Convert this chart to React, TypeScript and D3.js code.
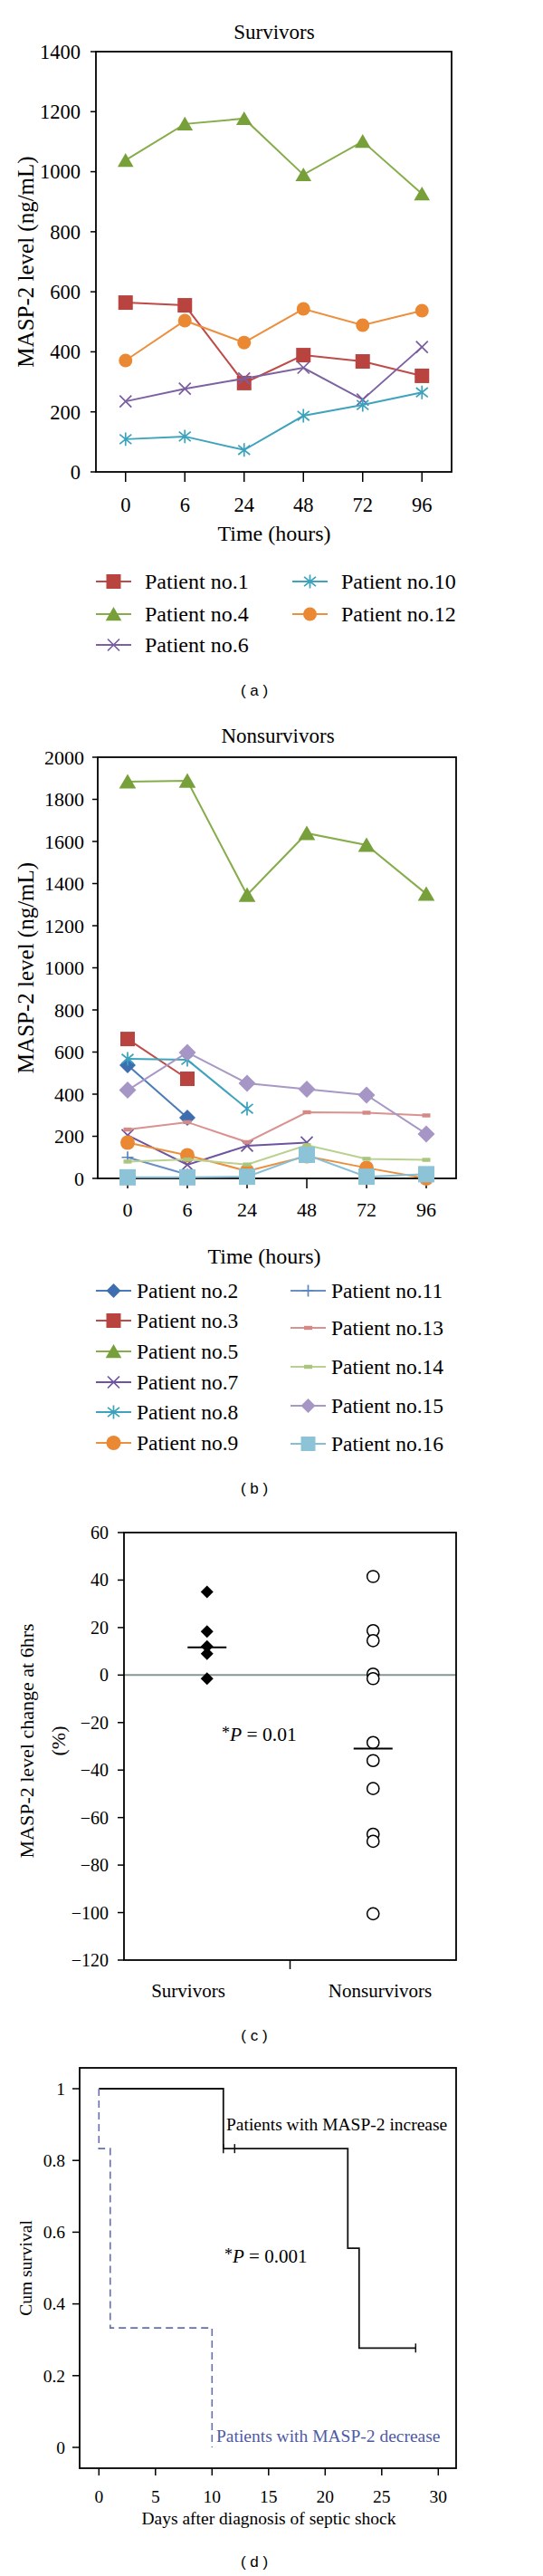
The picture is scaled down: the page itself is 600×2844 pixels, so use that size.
import React from "react";
import * as d3 from "d3";

// ---------------- DATA ----------------
const hours = ["0", "6", "24", "48", "72", "96"];

// (a) Survivors – MASP-2 level (ng/mL)
const patient1 = [564, 555, 296, 389, 368, 320];
const patient4 = [1038, 1159, 1177, 990, 1101, 926];
const patient6 = [235, 277, 311, 347, 241, 416];
const patient10 = [109, 118, 73, 187, 223, 265];
const patient12 = [371, 504, 431, 543, 489, 537];
const survivorTicks = [0, 200, 400, 600, 800, 1000, 1200, 1400];

// (b) Nonsurvivors – MASP-2 level (ng/mL)
const patient2 = [538, 288, null, null, null, null];
const patient3 = [662, 473, null, null, null, null];
const patient5 = [1884, 1888, 1346, 1639, 1583, 1351];
const patient7 = [205, 65, 155, 170, null, null];
const patient8 = [568, 563, 331, null, null, null];
const patient9 = [170, 110, 35, 105, 50, 0];
const patient11 = [100, 18, null, null, null, null];
const patient13 = [232, 267, 172, 314, 312, 299];
const patient14 = [80, 90, 66, 158, 93, 88];
const patient15 = [419, 598, 452, 424, 396, 211];
const patient16 = [5, 5, 8, 112, 8, 20];
const nonsurvivorTicks = [0, 200, 400, 600, 800, 1000, 1200, 1400, 1600, 1800, 2000];

// (c) MASP-2 change at 6 hrs (%)
const groups = ["Survivors", "Nonsurvivors"];
const survivorChange = [35, 18.3, 12, 9, -1.5];
const nonsurvivorChange = [41.5, 18.7, 14.5, 0.4, -1.5, -28.4, -36, -47.8, -67, -70, -100.5];
const groupMedians = [11.7, -31];
const changeTicks = [60, 40, 20, 0, -20, -40, -60, -80, -100, -120];

// (d) Kaplan–Meier
const increaseTimes = [0, 11, 22, 23, 28];
const increaseSurvival = [1, 0.833, 0.555, 0.277, 0.277];
const increaseCensorTimes = [11, 12, 28];
const increaseCensorSurvival = [0.833, 0.833, 0.277];
const decreaseTimes = [0, 0, 1, 10];
const decreaseSurvival = [1, 0.833, 0.333, 0];
const dayTicks = [0, 5, 10, 15, 20, 25, 30];
const survivalTicks = [0, 0.2, 0.4, 0.6, 0.8, 1];

// ---------------- STYLE ----------------
const SERIF = "'Liberation Serif', 'Times New Roman', serif";
const SANS = "'Liberation Sans', Arial, sans-serif";

type Kind = "square" | "triangle" | "circle" | "diamond" | "x" | "asterisk" | "plus" | "dash";
type Series = {
  name: string;
  values: (number | null)[];
  line: string;
  mark: string;
  kind: Kind;
  size: number;
  col: number;
  row: number;
};

const survivorSeries: Series[] = [
  { name: "Patient no.1", values: patient1, line: "#BE4B48", mark: "#B8433F", kind: "square", size: 16, col: 0, row: 0 },
  { name: "Patient no.4", values: patient4, line: "#86AD4A", mark: "#77A03A", kind: "triangle", size: 16, col: 0, row: 1 },
  { name: "Patient no.6", values: patient6, line: "#7D61A1", mark: "#7A5EA0", kind: "x", size: 13, col: 0, row: 2 },
  { name: "Patient no.10", values: patient10, line: "#3FA3BC", mark: "#3AA2BC", kind: "asterisk", size: 13, col: 1, row: 0 },
  { name: "Patient no.12", values: patient12, line: "#EC8F3E", mark: "#EA8834", kind: "circle", size: 15, col: 1, row: 1 },
];

const nonsurvivorSeries: Series[] = [
  { name: "Patient no.2", values: patient2, line: "#4A7AB8", mark: "#3E6EAF", kind: "diamond", size: 18, col: 0, row: 0 },
  { name: "Patient no.3", values: patient3, line: "#BE4B48", mark: "#B8433F", kind: "square", size: 16, col: 0, row: 1 },
  { name: "Patient no.5", values: patient5, line: "#86AD4A", mark: "#77A03A", kind: "triangle", size: 17, col: 0, row: 2 },
  { name: "Patient no.7", values: patient7, line: "#6E54A0", mark: "#6E54A0", kind: "x", size: 13, col: 0, row: 3 },
  { name: "Patient no.8", values: patient8, line: "#3FA3BC", mark: "#3AA2BC", kind: "asterisk", size: 13, col: 0, row: 4 },
  { name: "Patient no.9", values: patient9, line: "#EC8F3E", mark: "#EA8834", kind: "circle", size: 16, col: 0, row: 5 },
  { name: "Patient no.11", values: patient11, line: "#6A8FC6", mark: "#5C86C0", kind: "plus", size: 13, col: 1, row: 0 },
  { name: "Patient no.13", values: patient13, line: "#D9928F", mark: "#D58985", kind: "dash", size: 9, col: 1, row: 1 },
  { name: "Patient no.14", values: patient14, line: "#B8D18E", mark: "#A9C67C", kind: "dash", size: 9, col: 1, row: 2 },
  { name: "Patient no.15", values: patient15, line: "#A898C6", mark: "#A696C6", kind: "diamond", size: 19, col: 1, row: 3 },
  { name: "Patient no.16", values: patient16, line: "#86BFD4", mark: "#8CC3D7", kind: "square", size: 18, col: 1, row: 4 },
];

function Marker({ kind, x, y, size, color }: { kind: Kind; x: number; y: number; size: number; color: string }) {
  const h = size / 2;
  switch (kind) {
    case "square":
      return <rect x={x - h} y={y - h} width={size} height={size} fill={color} />;
    case "triangle":
      return <path d={`M${x},${y - h * 1.0}L${x + h * 1.1},${y + h * 0.9}L${x - h * 1.1},${y + h * 0.9}Z`} fill={color} />;
    case "circle":
      return <circle cx={x} cy={y} r={h} fill={color} />;
    case "diamond":
      return <path d={`M${x},${y - h}L${x + h},${y}L${x},${y + h}L${x - h},${y}Z`} fill={color} />;
    case "x":
      return <path d={`M${x - h},${y - h}L${x + h},${y + h}M${x - h},${y + h}L${x + h},${y - h}`} stroke={color} strokeWidth={1.7} fill="none" />;
    case "asterisk":
      return (
        <path
          d={`M${x - h},${y - h * 0.8}L${x + h},${y + h * 0.8}M${x - h},${y + h * 0.8}L${x + h},${y - h * 0.8}M${x},${y - h * 1.15}L${x},${y + h * 1.15}`}
          stroke={color}
          strokeWidth={1.7}
          fill="none"
        />
      );
    case "plus":
      return <path d={`M${x - h},${y}L${x + h},${y}M${x},${y - h}L${x},${y + h}`} stroke={color} strokeWidth={1.7} fill="none" />;
    case "dash":
      return <rect x={x - h} y={y - 2.2} width={size} height={4.4} fill={color} />;
  }
  return null;
}

type LineProps = {
  title: string;
  titleX: number;
  titleY: number;
  left: number;
  right: number;
  top: number;
  bottom: number;
  yMax: number;
  yTicks: number[];
  series: Series[];
  labelRight: number;
  tickFont: number;
  xLabelX: number;
  xLabelY: number;
  tickLabelY: number;
  yLabelX: number;
  legendCols: { lineX: number; textX: number }[];
  legendRows: number[][];
  legendFont: number;
  panelTag: string;
  panelTagY: number;
};

function LinePanel(p: LineProps) {
  const x = d3.scaleBand<string>().domain(hours).range([p.left, p.right]);
  const y = d3.scaleLinear().domain([0, p.yMax]).range([p.bottom, p.top]);
  const bw = x.bandwidth();
  const cx = (i: number) => (x(hours[i]) as number) + bw / 2;
  const line = d3
    .line<number | null>()
    .defined((d) => d != null)
    .x((_, i) => cx(i))
    .y((d) => y(d as number));
  return (
    <g>
      <text x={p.titleX} y={p.titleY} textAnchor="middle" fontFamily={SERIF} fontSize={23}>
        {p.title}
      </text>
      {p.yTicks.map((t) => (
        <g key={t}>
          <line x1={p.left - 6} x2={p.left} y1={y(t)} y2={y(t)} stroke="#000" strokeWidth={1.5} />
          <text x={p.labelRight} y={y(t)} dy="0.35em" textAnchor="end" fontFamily={SERIF} fontSize={p.tickFont}>
            {t}
          </text>
        </g>
      ))}
      {hours.map((h, i) => (
        <g key={h}>
          <line x1={cx(i)} x2={cx(i)} y1={p.bottom} y2={p.bottom + 11} stroke="#000" strokeWidth={1.5} />
          <text x={cx(i)} y={p.tickLabelY} textAnchor="middle" fontFamily={SERIF} fontSize={p.tickFont}>
            {h}
          </text>
        </g>
      ))}
      <rect x={p.left} y={p.top} width={p.right - p.left} height={p.bottom - p.top} fill="none" stroke="#000" strokeWidth={1.8} />
      {p.series.map((s) => (
        <g key={s.name}>
          <path d={line(s.values) || ""} fill="none" stroke={s.line} strokeWidth={2} />
          {s.values.map((v, i) =>
            v == null ? null : <Marker key={i} kind={s.kind} x={cx(i)} y={y(v)} size={s.size} color={s.mark} />
          )}
        </g>
      ))}
      <text x={p.xLabelX} y={p.xLabelY} textAnchor="middle" fontFamily={SERIF} fontSize={24}>
        Time (hours)
      </text>
      <text
        x={p.yLabelX}
        y={(p.top + p.bottom) / 2}
        transform={`rotate(-90 ${p.yLabelX} ${(p.top + p.bottom) / 2})`}
        textAnchor="middle"
        fontFamily={SERIF}
        fontSize={25}
      >
        MASP-2 level (ng/mL)
      </text>
      {p.series.map((s) => {
        const c = p.legendCols[s.col];
        const ry = p.legendRows[s.col][s.row];
        return (
          <g key={"lg" + s.name}>
            <line x1={c.lineX} x2={c.lineX + 39} y1={ry} y2={ry} stroke={s.line} strokeWidth={2} />
            <Marker kind={s.kind} x={c.lineX + 19.5} y={ry} size={Math.min(s.size, 16)} color={s.mark} />
            <text x={c.textX} y={ry} dy="0.33em" fontFamily={SERIF} fontSize={p.legendFont}>
              {s.name}
            </text>
          </g>
        );
      })}
      <text x={281} y={p.panelTagY} dy="0.35em" textAnchor="middle" fontFamily={SANS} fontSize={17}>
        {p.panelTag}
      </text>
    </g>
  );
}

function ChangePanel() {
  const left = 137, right = 504, top = 1692, bottom = 2164;
  const y = d3.scaleLinear().domain([-120, 60]).range([bottom, top]);
  const x = d3.scaleBand<string>().domain(groups).range([left, right]);
  const bw = x.bandwidth();
  const cx = (g: string) => (x(g) as number) + bw / 2;
  const labelX = d3.scalePoint<string>().domain(groups).range([208, 420]);
  const midY = 1922;
  return (
    <g>
      {changeTicks.map((t) => (
        <g key={t}>
          <line x1={left - 7} x2={left} y1={y(t)} y2={y(t)} stroke="#000" strokeWidth={1.5} />
          <text x={left - 17} y={y(t)} dy="0.35em" textAnchor="end" fontFamily={SERIF} fontSize={20}>
            {t < 0 ? "\u2212" + Math.abs(t) : t}
          </text>
        </g>
      ))}
      <line x1={left} x2={right} y1={y(0)} y2={y(0)} stroke="#869696" strokeWidth={2} />
      <rect x={left} y={top} width={right - left} height={bottom - top} fill="none" stroke="#000" strokeWidth={1.8} />
      <line x1={left + bw} x2={left + bw} y1={bottom} y2={bottom + 10} stroke="#000" strokeWidth={1.5} />
      {groups.map((g) => (
        <text key={g} x={labelX(g)} y={2205} textAnchor="middle" fontFamily={SERIF} fontSize={21}>
          {g}
        </text>
      ))}
      {survivorChange.map((v, i) => (
        <Marker key={"s" + i} kind="diamond" x={cx(groups[0])} y={y(v)} size={14} color="#000" />
      ))}
      {nonsurvivorChange.map((v, i) => (
        <circle key={"n" + i} cx={cx(groups[1])} cy={y(v)} r={6.6} fill="#fff" stroke="#000" strokeWidth={1.5} />
      ))}
      {groups.map((g, i) => (
        <line key={"m" + g} x1={cx(g) - 21.5} x2={cx(g) + 21.5} y1={y(groupMedians[i])} y2={y(groupMedians[i])} stroke="#000" strokeWidth={2} />
      ))}
      <text x={245} y={midY} fontFamily={SERIF} fontSize={21.5}>
        <tspan dy="-3" fontSize={18}>*</tspan>
        <tspan dy="3" fontStyle="italic">P</tspan>
        <tspan> = 0.01</tspan>
      </text>
      <text x={37} y={midY} transform={`rotate(-90 37 ${midY})`} textAnchor="middle" fontFamily={SERIF} fontSize={22}>
        MASP-2 level change at 6hrs
      </text>
      <text x={72} y={midY} transform={`rotate(-90 72 ${midY})`} textAnchor="middle" fontFamily={SERIF} fontSize={22}>
        (%)
      </text>
      <text x={281} y={2247} dy="0.35em" textAnchor="middle" fontFamily={SANS} fontSize={17}>
        ( c )
      </text>
    </g>
  );
}

function SurvivalPanel() {
  const left = 88, right = 504, top = 2283, bottom = 2725;
  const x = d3.scaleLinear().domain([0, 30]).range([109.3, 484.3]);
  const y = d3.scaleLinear().domain([0, 1]).range([2702, 2306]);
  const step = d3
    .line<[number, number]>()
    .x((d) => x(d[0]))
    .y((d) => y(d[1]))
    .curve(d3.curveStepAfter);
  const inc = increaseTimes.map((t, i) => [t, increaseSurvival[i]] as [number, number]);
  const dec = decreaseTimes.map((t, i) => [t, decreaseSurvival[i]] as [number, number]);
  return (
    <g>
      <rect x={left} y={top} width={right - left} height={bottom - top} fill="none" stroke="#000" strokeWidth={1.8} />
      {survivalTicks.map((t) => (
        <g key={t}>
          <line x1={left - 8} x2={left} y1={y(t)} y2={y(t)} stroke="#000" strokeWidth={1.5} />
          <text x={left - 16} y={y(t)} dy="0.35em" textAnchor="end" fontFamily={SERIF} fontSize={19.5}>
            {t}
          </text>
        </g>
      ))}
      {dayTicks.map((t) => (
        <g key={t}>
          <line x1={x(t)} x2={x(t)} y1={bottom} y2={bottom + 8} stroke="#000" strokeWidth={1.5} />
          <text x={x(t)} y={2763} textAnchor="middle" fontFamily={SERIF} fontSize={19.5}>
            {t}
          </text>
        </g>
      ))}
      <path d={step(inc) || ""} fill="none" stroke="#111" strokeWidth={1.8} />
      {increaseCensorTimes.map((t, i) => (
        <line key={i} x1={x(t)} x2={x(t)} y1={y(increaseCensorSurvival[i]) - 5} y2={y(increaseCensorSurvival[i]) + 5} stroke="#111" strokeWidth={1.5} />
      ))}
      <path d={step(dec) || ""} fill="none" stroke="#6670B2" strokeWidth={1.6} strokeDasharray="8 5" />
      <text x={250} y={2352} fontFamily={SERIF} fontSize={19.5}>
        Patients with MASP-2 increase
      </text>
      <text x={248} y={2498} fontFamily={SERIF} fontSize={21}>
        <tspan dy="-3" fontSize={18}>*</tspan>
        <tspan dy="3" fontStyle="italic">P</tspan>
        <tspan> = 0.001</tspan>
      </text>
      <text x={239} y={2696} fontFamily={SERIF} fontSize={19.5} fill="#4F5AA6">
        Patients with MASP-2 decrease
      </text>
      <text x={297} y={2787} textAnchor="middle" fontFamily={SERIF} fontSize={19.5}>
        Days after diagnosis of septic shock
      </text>
      <text x={35} y={2504} transform="rotate(-90 35 2504)" textAnchor="middle" fontFamily={SERIF} fontSize={19.5}>
        Cum survival
      </text>
      <text x={281} y={2828} dy="0.35em" textAnchor="middle" fontFamily={SANS} fontSize={17}>
        ( d )
      </text>
    </g>
  );
}

export default function App() {
  return (
    <svg
      width={600}
      height={2844}
      viewBox="0 0 600 2844"
      style={{ position: "absolute", left: 0, top: 0, background: "#fff" }}
    >
      <rect x={0} y={0} width={600} height={2844} fill="#fff" />
      <LinePanel
        title="Survivors"
        titleX={303}
        titleY={43}
        left={106}
        right={499}
        top={57}
        bottom={521}
        yMax={1400}
        yTicks={survivorTicks}
        series={survivorSeries}
        labelRight={89}
        tickFont={22.5}
        xLabelX={303}
        xLabelY={597}
        tickLabelY={565}
        yLabelX={37}
        legendCols={[
          { lineX: 106, textX: 160 },
          { lineX: 323, textX: 377 },
        ]}
        legendRows={[
          [642, 678, 712],
          [642, 678],
        ]}
        legendFont={24}
        panelTag="( a )"
        panelTagY={762}
      />
      <LinePanel
        title="Nonsurvivors"
        titleX={307}
        titleY={820}
        left={108}
        right={504}
        top={836}
        bottom={1301}
        yMax={2000}
        yTicks={nonsurvivorTicks}
        series={nonsurvivorSeries}
        labelRight={93}
        tickFont={22}
        xLabelX={292}
        xLabelY={1395}
        tickLabelY={1343}
        yLabelX={37}
        legendCols={[
          { lineX: 106, textX: 151 },
          { lineX: 321, textX: 366 },
        ]}
        legendRows={[
          [1425, 1458, 1492, 1526, 1559, 1593],
          [1425, 1466, 1509, 1552, 1594],
        ]}
        legendFont={23.5}
        panelTag="( b )"
        panelTagY={1643}
      />
      <ChangePanel />
      <SurvivalPanel />
    </svg>
  );
}
